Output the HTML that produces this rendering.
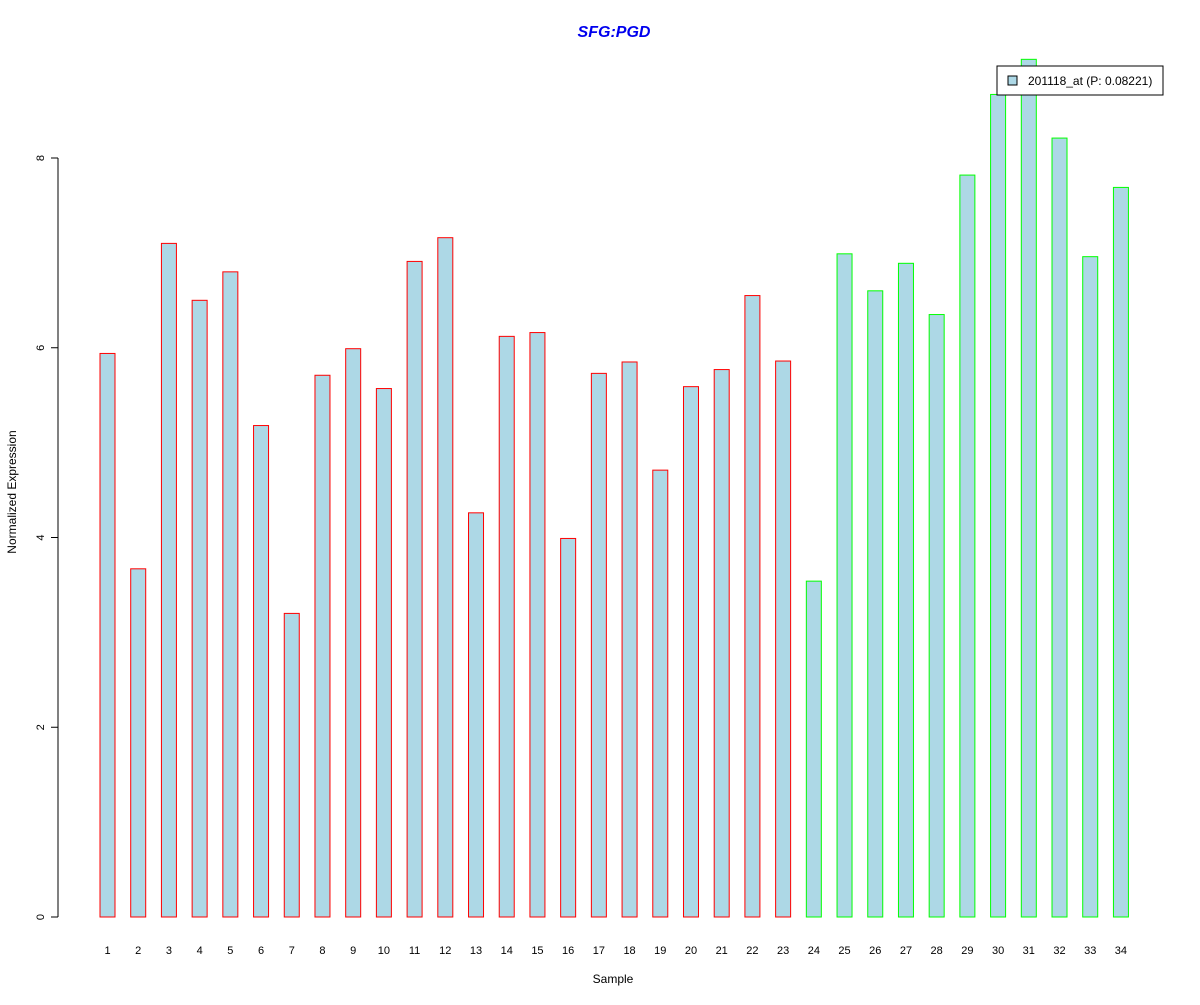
<!DOCTYPE html>
<html><head><meta charset="utf-8"><style>
body{margin:0;background:#fff}
svg{font-family:"Liberation Sans",Arial,sans-serif}
</style></head><body>
<svg id="chart" width="1200" height="1000" viewBox="0 0 1200 1000" xmlns="http://www.w3.org/2000/svg">
<rect width="1200" height="1000" fill="#fff"/>
<text x="614" y="37" text-anchor="middle" font-size="16" font-weight="bold" font-style="italic" fill="#0000ee">SFG:PGD</text>
<text x="613" y="983" text-anchor="middle" font-size="12">Sample</text>
<text transform="translate(16,492) rotate(-90)" text-anchor="middle" font-size="12">Normalized Expression</text>
<g id="bars"></g><g id="axis"></g>
<g>
<rect x="997" y="66" width="166" height="29" fill="#fff" stroke="#000"/>
<rect x="1008" y="76" width="9" height="9" fill="#add8e6" stroke="#000"/>
<text x="1028" y="85" font-size="12">201118_at (P: 0.08221)</text>
</g>
</svg>
<script>
const samples=[1,2,3,4,5,6,7,8,9,10,11,12,13,14,15,16,17,18,19,20,21,22,23,24,25,26,27,28,29,30,31,32,33,34];
const values=[5.94,3.67,7.10,6.50,6.80,5.18,3.20,5.71,5.99,5.57,6.91,7.16,4.26,6.12,6.16,3.99,5.73,5.85,4.71,5.59,5.77,6.55,5.86,3.54,6.99,6.60,6.89,6.35,7.82,8.67,9.04,8.21,6.96,7.69];
const groups=["r","r","r","r","r","r","r","r","r","r","r","r","r","r","r","r","r","r","r","r","r","r","r","g","g","g","g","g","g","g","g","g","g","g"];
const yTicks=[0,2,4,6,8];
const NS="http://www.w3.org/2000/svg";
const y=v=>917-v*94.875;
const x=i=>107.5+i*30.71;
const bars=document.getElementById('bars'),axis=document.getElementById('axis');
samples.forEach((s,i)=>{
 const r=document.createElementNS(NS,'rect');
 
 
 r.setAttribute('x',x(i)-7.5);r.setAttribute('width',15);
 r.setAttribute('y',y(values[i]));r.setAttribute('height',y(0)-y(values[i]));
 r.setAttribute('fill','#add8e6');r.setAttribute('stroke',groups[i]=="r"?"#ff0000":"#00ff00");
 bars.appendChild(r);
 const t=document.createElementNS(NS,'text');
 
 
 t.setAttribute('x',x(i));t.setAttribute('y',954);t.setAttribute('text-anchor','middle');t.setAttribute('font-size','11');
 t.textContent=s;axis.appendChild(t);
});
const l=document.createElementNS(NS,'line');


l.setAttribute('x1',58);l.setAttribute('x2',58);l.setAttribute('y1',y(8));l.setAttribute('y2',y(0));l.setAttribute('stroke','#000');
axis.appendChild(l);
yTicks.forEach(v=>{
 const tk=document.createElementNS(NS,'line');
 
 
 tk.setAttribute('x1',51);tk.setAttribute('x2',58);tk.setAttribute('y1',y(v));tk.setAttribute('y2',y(v));tk.setAttribute('stroke','#000');
 axis.appendChild(tk);
 const t=document.createElementNS(NS,'text');
 
 
 t.setAttribute('transform','translate(44,'+y(v)+') rotate(-90)');t.setAttribute('text-anchor','middle');t.setAttribute('font-size','11');
 t.textContent=v;axis.appendChild(t);
});
</script>
</body></html>
